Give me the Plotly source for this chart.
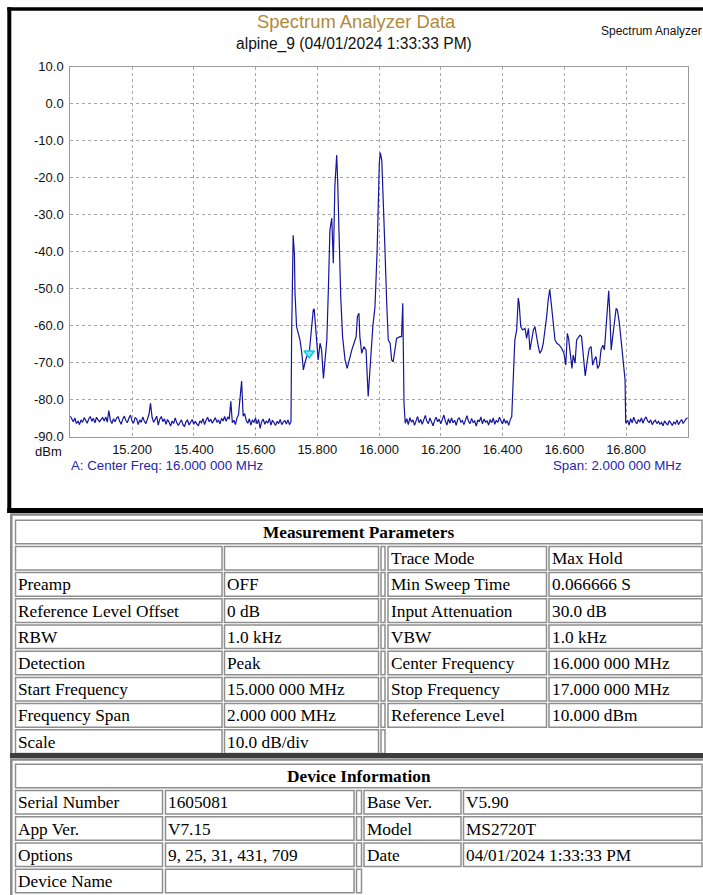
import numpy as np
import plotly.graph_objects as go

# ---------------- sweep data (MHz / dBm) ----------------
SWEEP_STEP = 0.005

# noise floor 15.000 - 15.715 MHz (regular sweep points)
noise_a_start = 15.000
noise_a_level = [
    -84.5, -85.3, -86.0, -85.0, -86.5, -85.8,
    -86.8, -85.5, -86.2, -84.9, -85.6,
    -86.4, -85.2, -84.6, -85.9, -85.1, -86.3, -84.8, -85.5, -86.0, -85.4,
    -84.9, -85.8, -84.7, -86.1, -83.0, -85.6, -86.5, -85.2, -86.0, -85.1,
    -84.6, -85.9, -86.7, -85.3, -84.5, -85.6, -86.3, -85.0, -84.2, -85.8,
    -86.4, -84.9, -85.2, -86.8, -85.5, -86.2, -84.7, -85.9, -86.5, -85.3,
    -84.0, -81.0, -84.8, -86.2, -85.5, -84.5, -86.9, -85.3, -84.6, -86.0,
    -85.2, -86.7, -85.4, -86.1, -87.2, -85.8, -86.5, -85.0, -86.3, -87.0,
    -86.2, -85.5, -86.8, -87.3, -86.0, -85.6, -86.9, -86.2, -85.4, -86.7,
    -85.9, -86.6, -87.1, -85.8, -86.3, -85.2, -86.8, -85.6, -84.8, -86.0,
    -85.3, -86.4, -85.7, -84.9, -86.2, -85.5, -86.6, -85.1, -85.8, -84.6,
    -85.9, -84.7, -85.3, -80.5, -86.3, -85.6, -86.8, -85.0, -84.1, -80.0,
    -75.0, -84.5, -83.8, -85.7, -86.4, -85.2, -86.9, -85.5, -86.2, -85.0,
    -86.6, -85.4, -87.8, -86.0, -85.3, -86.7, -85.8, -86.4, -85.1, -86.9,
    -85.6, -86.3, -87.0, -85.9, -86.5, -85.4, -86.8, -86.1, -85.7, -86.6,
    -85.5, -86.8, -86.0,
]

# first occupied band
band1_freq = [
    15.717, 15.722, 15.726, 15.728, 15.733, 15.738, 15.744, 15.750, 15.755,
    15.760, 15.766, 15.774, 15.782, 15.787, 15.790, 15.793, 15.798, 15.803,
    15.809, 15.814, 15.820, 15.825, 15.831, 15.836, 15.841, 15.847, 15.852,
    15.857, 15.863, 15.866, 15.871, 15.876, 15.882, 15.890, 15.897, 15.906,
    15.912, 15.919, 15.926, 15.930, 15.935, 15.938, 15.944, 15.951, 15.958,
    15.965, 15.971, 15.980, 15.987, 15.994, 16.001, 16.004, 16.009, 16.014,
    16.019, 16.025, 16.030, 16.036, 16.041, 16.046, 16.052, 16.057, 16.068,
    16.073, 16.077, 16.081, 16.085,
]
band1_level = [
    -62.8, -35.6, -40.5, -51.2, -60.3, -62.0, -63.9, -67.4, -72.0,
    -70.1, -68.4, -67.5, -61.2, -55.8, -55.5, -59.4, -64.8, -69.3,
    -64.8, -66.6, -74.3, -68.4, -63.9, -50.4, -34.2, -31.0, -43.2,
    -22.5, -13.9, -20.7, -36.0, -52.2, -63.0, -69.3, -71.6, -68.4,
    -66.6, -64.8, -63.0, -57.6, -56.7, -63.0, -67.5, -65.7, -66.6,
    -79.2, -71.1, -60.3, -54.9, -39.6, -16.2, -13.3, -15.3, -25.2,
    -38.7, -54.0, -63.9, -64.8, -69.3, -69.8, -66.6, -63.5, -63.0,
    -63.0, -54.0, -81.0, -86.4,
]

# noise floor 16.090 - 16.430 MHz
noise_b_start = 16.090
noise_b_level = [
    -85.2, -86.8, -84.9, -86.1, -85.5, -87.0, -85.8, -84.6, -86.3, -85.4,
    -86.7, -85.1, -84.3, -85.9, -86.5, -85.0, -86.2, -87.1, -85.7, -84.8,
    -86.0, -85.3, -86.6, -85.5, -84.2, -85.8, -86.9, -85.2, -86.4, -85.0,
    -86.3, -85.6, -87.0, -85.4, -84.9, -86.1, -85.7, -86.8, -85.3, -84.4,
    -85.9, -86.5, -85.1, -86.2, -85.8, -87.2, -85.5, -86.0, -84.7, -86.6,
    -85.3, -86.1, -85.8, -86.9, -85.4, -86.3, -85.0, -86.7, -85.6, -86.2,
    -84.8, -85.9, -86.6, -85.2, -86.4, -85.7, -87.0, -85.5, -84.6,
]

# second occupied band
band2_freq = [
    16.436, 16.440, 16.446, 16.451, 16.454, 16.459, 16.465, 16.473, 16.478,
    16.484, 16.489, 16.495, 16.500, 16.505, 16.511, 16.516, 16.521, 16.527,
    16.532, 16.538, 16.543, 16.548, 16.553, 16.559, 16.565, 16.570, 16.576,
    16.584, 16.592, 16.599, 16.605, 16.610, 16.614, 16.621, 16.625, 16.629,
    16.635, 16.640, 16.646, 16.651, 16.656, 16.661, 16.668, 16.675, 16.681,
    16.687, 16.692, 16.697, 16.703, 16.708, 16.714, 16.719, 16.725, 16.730,
    16.735, 16.740, 16.744, 16.748, 16.752, 16.757, 16.762, 16.768, 16.772,
    16.778, 16.783, 16.788, 16.794, 16.797, 16.799,
]
band2_level = [
    -72.0, -63.9, -61.2, -52.6, -54.0, -60.3, -61.2, -60.8, -63.5,
    -60.8, -66.6, -63.0, -61.2, -60.3, -63.9, -65.7, -67.5, -66.6,
    -64.8, -61.2, -57.6, -53.1, -50.2, -54.9, -60.3, -63.9, -64.8,
    -65.3, -66.2, -67.5, -70.7, -62.1, -63.5, -69.3, -71.6, -68.0,
    -70.2, -63.9, -63.0, -62.6, -63.0, -67.5, -73.6, -69.3, -66.2,
    -65.7, -70.7, -69.3, -68.4, -71.6, -70.7, -66.6, -65.3, -66.6,
    -61.2, -55.8, -50.6, -57.6, -66.6, -63.0, -59.4, -55.4, -55.8,
    -59.0, -63.0, -67.5, -71.1, -74.7, -86.4,
]

# noise floor 16.805 - 17.000 MHz
noise_c_start = 16.805
noise_c_level = [
    -85.6, -86.9, -85.2, -86.3, -84.8, -85.9, -86.6, -85.4, -86.1, -85.0,
    -86.4, -85.3, -84.7, -85.8, -86.2, -85.5, -86.8, -86.0, -85.6, -86.5,
    -85.9, -86.7, -86.2, -87.1, -85.8, -86.4, -86.9, -85.7, -86.3, -87.0,
    -86.1, -86.6, -85.5, -86.8, -86.0, -85.4, -86.5, -85.7, -85.2, -84.9,
]

# marker A
marker_freq = [15.774]
marker_level = [-67.5]

# axis ticks
x_tick_vals = [15.2, 15.4, 15.6, 15.8, 16.0, 16.2, 16.4, 16.6, 16.8]
x_tick_text = ["15.200", "15.400", "15.600", "15.800", "16.000",
               "16.200", "16.400", "16.600", "16.800"]
y_tick_vals = [10, 0, -10, -20, -30, -40, -50, -60, -70, -80, -90]
y_tick_text = ["10.0", "0.0", "-10.0", "-20.0", "-30.0", "-40.0",
               "-50.0", "-60.0", "-70.0", "-80.0", "-90.0"]

# report tables
meas_rows = [
    ("", "", "Trace Mode", "Max Hold"),
    ("Preamp", "OFF", "Min Sweep Time", "0.066666 S"),
    ("Reference Level Offset", "0 dB", "Input Attenuation", "30.0 dB"),
    ("RBW", "1.0 kHz", "VBW", "1.0 kHz"),
    ("Detection", "Peak", "Center Frequency", "16.000 000 MHz"),
    ("Start Frequency", "15.000 000 MHz", "Stop Frequency", "17.000 000 MHz"),
    ("Frequency Span", "2.000 000 MHz", "Reference Level", "10.000 dBm"),
    ("Scale", "10.0 dB/div", None, None),
]
device_rows = [
    ("Serial Number", "1605081", "Base Ver.", "V5.90"),
    ("App Ver.", "V7.15", "Model", "MS2720T"),
    ("Options", "9, 25, 31, 431, 709", "Date", "04/01/2024 1:33:33 PM"),
    ("Device Name", "", None, None),
]


def sweep(start, levels):
    freqs = np.round(start + SWEEP_STEP * np.arange(len(levels)), 3)
    return list(freqs), list(levels)


fa, la = sweep(noise_a_start, noise_a_level)
fb, lb = sweep(noise_b_start, noise_b_level)
fc, lc = sweep(noise_c_start, noise_c_level)
freq = fa + band1_freq + fb + band2_freq + fc
level = la + band1_level + lb + band2_level + lc

# ---------------- page geometry (pixels) ----------------
W, H = 703, 895
SANS = "Liberation Sans, Arial, sans-serif"
SERIF = "Liberation Serif, Times New Roman, serif"


def X(p):
    return p / W


def Y(p):
    return 1 - p / H


PLOT_L, PLOT_R, PLOT_T, PLOT_B = 70.25, 687.75, 66.5, 436.5

fig = go.Figure()
fig.add_trace(go.Scatter(
    x=freq, y=level, mode="lines",
    line=dict(color="#14149e", width=1.2),
    hoverinfo="skip", showlegend=False,
))
fig.add_trace(go.Scatter(
    x=marker_freq, y=marker_level, mode="markers",
    marker=dict(symbol="triangle-down", size=9, color="#7fe6f7",
                line=dict(color="#10c8e8", width=1.5)),
    hoverinfo="skip", showlegend=False,
))

shapes = []
annotations = []


def rect(x0, y0, x1, y1, fill=None, line=None, width=0):
    shapes.append(dict(
        type="rect", xref="paper", yref="paper",
        x0=X(x0), x1=X(x1), y0=Y(y1), y1=Y(y0),
        fillcolor=fill if fill else "rgba(0,0,0,0)",
        line=dict(color=line if line else "rgba(0,0,0,0)", width=width),
        layer="above",
    ))


def text(x, y, s, size, color="#000", family=SANS, xanchor="left", bold=False):
    if bold:
        s = "<b>" + s + "</b>"
    annotations.append(dict(
        x=X(x), y=Y(y), xref="paper", yref="paper", text=s,
        showarrow=False, xanchor=xanchor, yanchor="middle",
        font=dict(size=size, color=color, family=family), borderpad=0,
    ))


# chart panel frame
rect(7.3, 7.3, 705, 10.8, fill="#000")
rect(7.3, 7.3, 11.3, 513, fill="#000")
rect(7.3, 508, 705, 513, fill="#000")

# chart headings
text(356, 21, "Spectrum Analyzer Data", 18.4, color="#b0893a", xanchor="center")
text(354, 44, "alpine_9 (04/01/2024 1:33:33 PM)", 15.6, color="#111", xanchor="center")
text(600, 31, "Spectrum Analyzer", 12, color="#111")
text(63, 451.5, "dBm", 13, color="#111", xanchor="right")
text(70, 465.5, "A: Center Freq: 16.000 000 MHz", 13.3, color="#2626b0")
text(683, 465.5, "Span: 2.000 000 MHz", 13.3, color="#2626b0", xanchor="right")

# ---------------- report tables ----------------
CELL_LINE = "#8e8e8e"
CELL_FONT = 17.3


def draw_table(top_center, pitch, title, rows, cols, gap, outer_top, outer_bottom):
    # outer table border
    rect(11.3, outer_top, 706, outer_bottom, line="#8a8a8a", width=2.5)
    half = 11.8
    # title row
    rect(15.5, top_center - half, 702, top_center + half, line=CELL_LINE, width=1.5)
    text(358.5, top_center, title, CELL_FONT, family=SERIF, xanchor="center", bold=True)
    for i, row in enumerate(rows, start=1):
        c = top_center + pitch * i
        for j, val in enumerate(row):
            if val is None:
                continue
            x0, x1 = cols[j]
            rect(x0, c - half, x1, c + half, line=CELL_LINE, width=1.5)
            if val:
                text(x0 + 1.5, c + 0.5, val, CELL_FONT, family=SERIF)
            if j == 1:
                rect(gap[0], c - half, gap[1], c + half, line=CELL_LINE, width=1.5)


meas_cols = [(15.5, 222), (224.5, 378.5), (388, 546.5), (549, 702)]
draw_table(532, 26.2, "Measurement Parameters", meas_rows, meas_cols,
           (381, 385), 514.5, 755)
# separator between tables
rect(10, 753, 706, 758, fill="#3c3c3c")
dev_cols = [(15.5, 162.5), (165.5, 354), (364, 461), (463.5, 702)]
draw_table(776, 26.25, "Device Information", device_rows, dev_cols,
           (356.5, 361.5), 759.5, 897)

axis_common = dict(
    showgrid=True, gridcolor="#a6a6a6", griddash="dot", gridwidth=1,
    showline=True, linecolor="#9a9a9a", linewidth=1, mirror=True,
    zeroline=False, ticks="", automargin=False, fixedrange=True,
    tickfont=dict(size=13, color="#111", family=SANS),
)

fig.update_layout(
    width=W, height=H, autosize=False,
    margin=dict(l=0, r=0, t=0, b=0, pad=0, autoexpand=False),
    paper_bgcolor="#ffffff", plot_bgcolor="#ffffff",
    showlegend=False,
    shapes=shapes, annotations=annotations,
    xaxis=dict(domain=[X(PLOT_L), X(PLOT_R)], range=[15.0, 17.0],
               tickvals=x_tick_vals, ticktext=x_tick_text,
               ticklabelstandoff=1, **axis_common),
    yaxis=dict(domain=[Y(PLOT_B), Y(PLOT_T)], range=[-90, 10],
               tickvals=y_tick_vals, ticktext=y_tick_text,
               ticklabelstandoff=3, **axis_common),
)

fig.write_html(
    "out.html",
    config={"responsive": False, "displayModeBar": False},
    post_script="document.body.style.margin='0';"
                "document.body.style.overflow='hidden';",
)
